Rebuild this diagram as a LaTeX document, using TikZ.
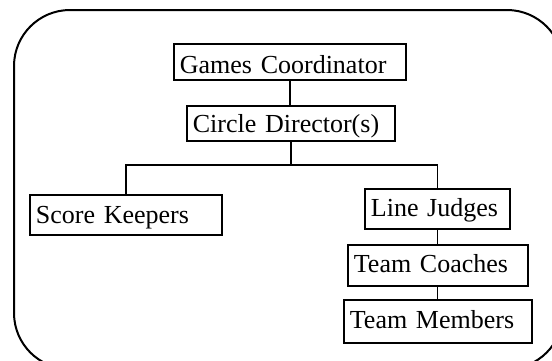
\documentclass[tikz,border=0pt]{standalone}
\usepackage{fontspec}
\setmainfont{Liberation Serif}
\begin{document}
\begin{tikzpicture}[x=1pt,y=-1pt,
  box/.style={draw, line width=1.8pt, anchor=north west, inner ysep=0pt, inner xsep=6pt, align=left,
    font=\fontsize{26}{30}\selectfont},
  link/.style={line width=1.8pt}]
\useasboundingbox (0,0) rectangle (552,360);
\begin{scope}
\clip (0,0) rectangle (552,360);
\draw[line width=2pt, rounded corners=56pt] (14,10) rectangle (563,369);
\end{scope}
\node[box, text width=220pt, text height=30pt, text depth=6pt] (gc) at (173,43) {Games Coordinator};
\node[box, text width=196pt, text height=27pt, text depth=8pt] (cd) at (186,105) {Circle Director(s)};
\node[box, text width=180pt, text height=29pt, text depth=11pt] (sk) at (29,194) {Score Keepers};
\node[box, text width=133pt, text height=28pt, text depth=12pt] (lj) at (364,188) {Line Judges};
\node[box, text width=168pt, text height=28pt, text depth=13pt] (tc) at (347,244) {Team Coaches};
\node[box, text width=176pt, text height=29pt, text depth=14pt] (tm) at (343,299) {Team Members};
\coordinate (bus) at ([yshift=-23pt]cd.south);
\draw[link] (gc.south) -- (gc.south |- cd.north);
\draw[link] (cd.south) -- (bus);
\draw[link] (sk.north) |- (bus) -| (lj.north);
\draw[link] (lj.south) -- (lj.south |- tc.north);
\draw[link] (lj.south |- tc.south) -- (lj.south |- tm.north);
\end{tikzpicture}
\end{document}
